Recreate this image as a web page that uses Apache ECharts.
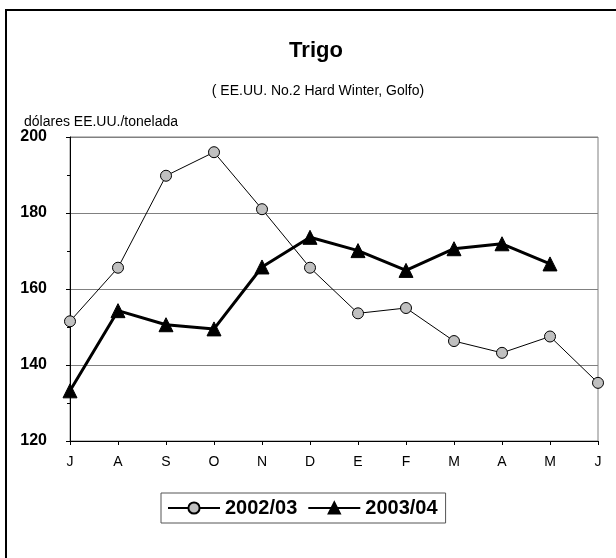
<!DOCTYPE html>
<html>
<head>
<meta charset="utf-8">
<script src="https://cdn.jsdelivr.net/npm/echarts@6/dist/echarts.min.js"></script>
<style>
html,body{margin:0;padding:0;background:#fff;}
#chart{width:616px;height:558px;}
</style>
</head>
<body>
<div id="chart"></div>
<script>
// meses jul-jun
const months = ['J','A','S','O','N','D','E','F','M','A','M','J']
const serie0203 = [151.5,165.6,189.8,196,181,165.6,153.6,155,146.3,143.2,147.5,135.3]
const serie0304 = [133.2,154.3,150.6,149.5,165.8,173.6,170.1,164.9,170.6,171.9,166.6,null]
const seriesNames = ['2002/03','2003/04']

const chart = echarts.init(document.getElementById('chart'))
const font = 'Liberation Sans, Arial, sans-serif'

const option = {
    animation:false,
    backgroundColor:'#fff',
    textStyle:{fontFamily:font},
    title:[
        {
            text:'Trigo',
            left:311, top:35,
            textAlign:'center',
            textStyle:{fontSize:22,fontWeight:'bold',color:'#000',fontFamily:font}
        },
        {
            text:'( EE.UU. No.2 Hard Winter, Golfo)',
            left:313, top:79,
            textAlign:'center',
            textStyle:{fontSize:14,fontWeight:'normal',color:'#000',fontFamily:font}
        },
        {
            text:'dólares EE.UU./tonelada',
            left:19, top:110,
            textStyle:{fontSize:14,fontWeight:'normal',color:'#000',fontFamily:font}
        }
    ],
    grid:{
        left:70, right:18, top:137, bottom:117,
        show:true, borderColor:'#808080', borderWidth:1
    },
    legend:{
        data:seriesNames,
        left:161, top:493,
        padding:[5,8,5,6],
        itemGap:10,
        itemWidth:52, itemHeight:14,
        borderColor:'#555', borderWidth:1,
        textStyle:{fontSize:20,fontWeight:'bold',color:'#000',fontFamily:font}
    },
    xAxis:{
        type:'category',
        data:months,
        boundaryGap:false,
        axisLine:{lineStyle:{color:'#000',width:1}},
        axisTick:{show:true,inside:false,length:4,lineStyle:{color:'#000'}},
        axisLabel:{fontSize:14,color:'#000',margin:14,fontFamily:font},
        splitLine:{show:false}
    },
    yAxis:{
        type:'value',
        min:120, max:200, interval:20,
        axisLine:{show:true,lineStyle:{color:'#000',width:1}},
        axisTick:{show:true,inside:false,length:4,lineStyle:{color:'#000'}},
        minorTick:{show:true,splitNumber:2,length:3,lineStyle:{color:'#000'}},
        axisLabel:{fontSize:16,fontWeight:'bold',color:'#000',margin:23,fontFamily:font},
        splitLine:{show:true,lineStyle:{color:'#808080',width:1}}
    },
    series:[
        {
            name:seriesNames[0],
            type:'line',
            data:serie0203,
            symbol:'circle',
            symbolSize:11,
            lineStyle:{color:'#000',width:1},
            itemStyle:{color:'#c0c0c0',borderColor:'#000',borderWidth:1},
            z:2
        },
        {
            name:seriesNames[1],
            type:'line',
            data:serie0304,
            symbol:'triangle',
            symbolSize:14,
            lineStyle:{color:'#000',width:3},
            itemStyle:{color:'#000',borderColor:'#000',borderWidth:1},
            z:3
        }
    ],
    graphic:[
        {
            type:'polyline',
            shape:{points:[[6,558],[6,10],[616,10]]},
            style:{stroke:'#000',lineWidth:2,fill:null},
            silent:true
        }
    ]
}
chart.setOption(option)
</script>
</body>
</html>
